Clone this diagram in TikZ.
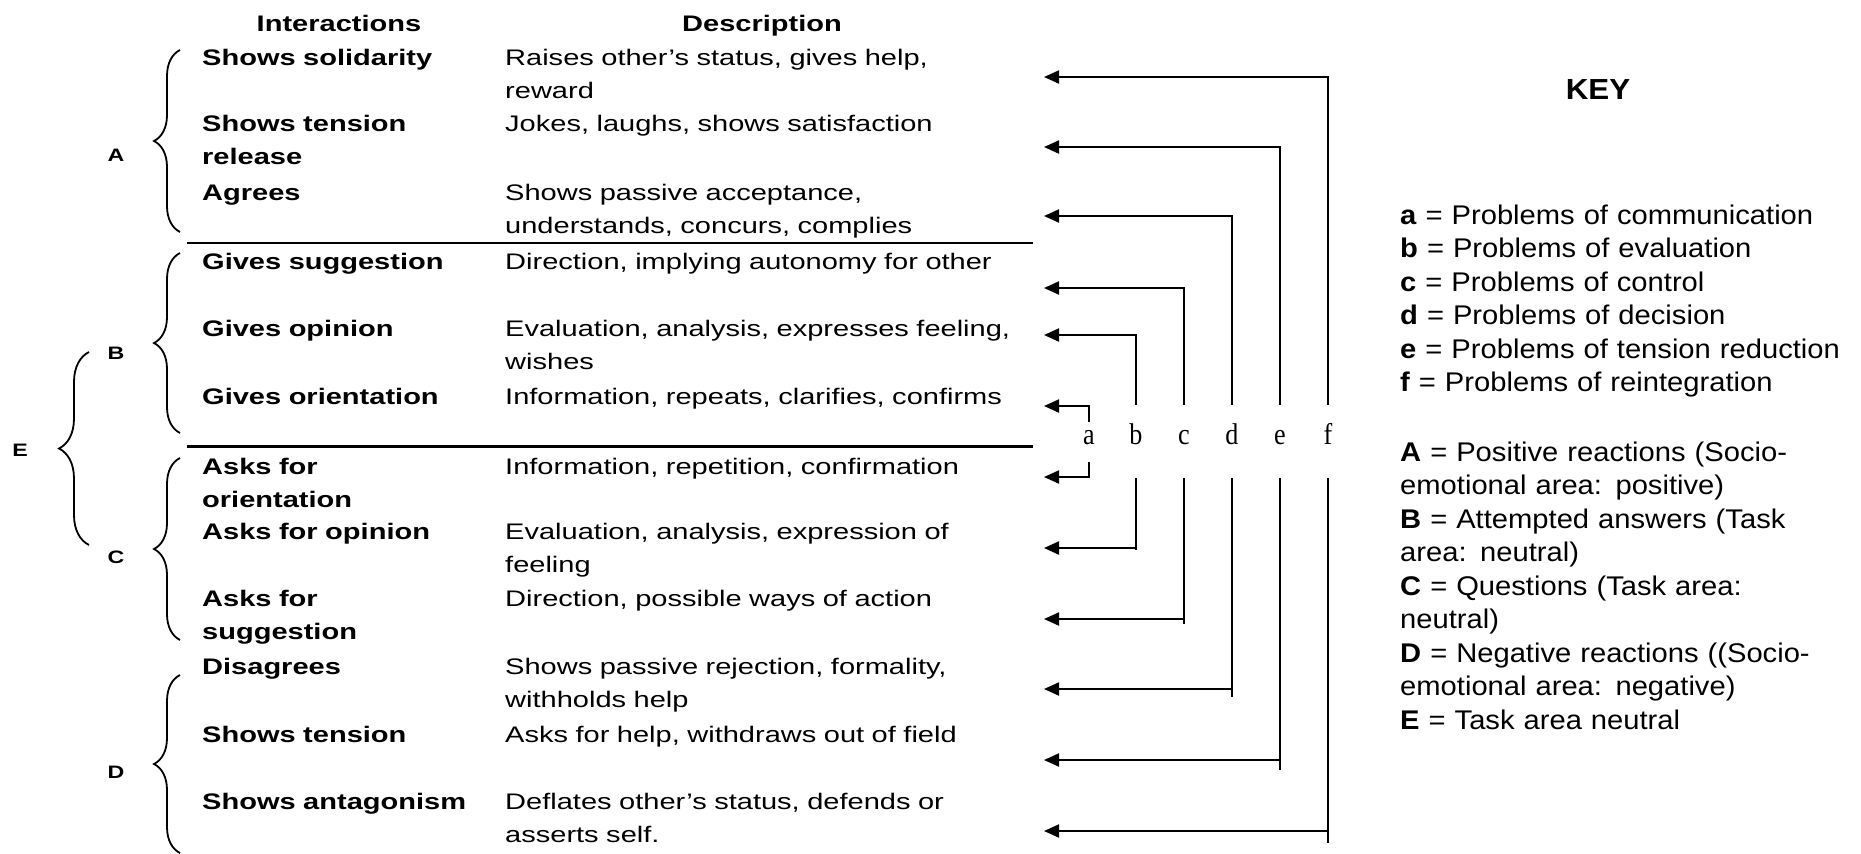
\documentclass[tikz,border=0pt]{standalone}
\usepackage{fontspec}
\setmainfont{Liberation Sans}
\newfontfamily\tabfont[FakeStretch=1.29]{Liberation Sans}
\newfontfamily\keyfont[FakeStretch=1.08]{Liberation Sans}
\newfontfamily\letfont[FakeStretch=0.87]{Liberation Serif}
\usetikzlibrary{arrows.meta,decorations.pathreplacing}
\begin{document}
\begin{tikzpicture}[x=1pt,y=-1pt,>={Triangle[length=15pt,width=13pt]},
  act/.style={anchor=base west,inner sep=0,text width=300pt,align=left,font=\tabfont\bfseries\fontsize{22.5}{33.5}\selectfont},
  desc/.style={anchor=base west,inner sep=0,text width=560pt,align=left,font=\tabfont\fontsize{22.5}{33.5}\selectfont},
  colhead/.style={anchor=base,inner sep=0,font=\tabfont\bfseries\fontsize{22.5}{27}\selectfont},
  grp/.style={inner sep=0,font=\tabfont\bfseries\fontsize{18}{20}\selectfont},
  curly/.style={decorate,decoration={brace,amplitude=#1},line width=1.8pt},
  prob/.style={anchor=base,inner sep=0,text height=39pt,text depth=34pt,font=\letfont\fontsize{30}{30}\selectfont},
  link/.style={->,line width=2pt},
  keytxt/.style={anchor=base west,inner sep=0,text width=470pt,align=left,font=\keyfont\fontsize{27}{33.5}\selectfont}]
  \useasboundingbox (0,0) rectangle (1861,854);
  % column heads
  \node[colhead] (hint) at (339,31) {Interactions};
  \node[colhead] (hdesc) at (762,31) {Description};
  % interactions
  \node[act] (i1) at (202,65) {Shows solidarity};
  \node[act] (i2) at (202,131) {Shows tension\\release};
  \node[act] (i3) at (202,200) {Agrees};
  \node[act] (i4) at (202,269) {Gives suggestion};
  \node[act] (i5) at (202,336) {Gives opinion};
  \node[act] (i6) at (202,404) {Gives orientation};
  \node[act] (i7) at (202,474) {Asks for\\orientation};
  \node[act] (i8) at (202,539) {Asks for opinion};
  \node[act] (i9) at (202,606) {Asks for\\suggestion};
  \node[act] (i10) at (202,674) {Disagrees};
  \node[act] (i11) at (202,742) {Shows tension};
  \node[act] (i12) at (202,809) {Shows antagonism};
  % descriptions
  \node[desc] (d1) at (505,65) {Raises other’s status, gives help,\\reward};
  \node[desc] (d2) at (505,131) {Jokes, laughs, shows satisfaction};
  \node[desc] (d3) at (505,200) {Shows passive acceptance,\\understands, concurs, complies};
  \node[desc] (d4) at (505,269) {Direction, implying autonomy for other};
  \node[desc] (d5) at (505,336) {Evaluation, analysis, expresses feeling,\\wishes};
  \node[desc] (d6) at (505,404) {Information, repeats, clarifies, confirms};
  \node[desc] (d7) at (505,474) {Information, repetition, confirmation};
  \node[desc] (d8) at (505,539) {Evaluation, analysis, expression of\\feeling};
  \node[desc] (d9) at (505,606) {Direction, possible ways of action};
  \node[desc] (d10) at (505,674) {Shows passive rejection, formality,\\withholds help};
  \node[desc] (d11) at (505,742) {Asks for help, withdraws out of field};
  \node[desc] (d12) at (505,809) {Deflates other’s status, defends or\\asserts self.};
  \draw[line width=2.4pt] (187,243)--(1033,243) (187,446.5)--(1033,446.5);
  % braces
  \draw[curly=26pt] (180,232)--(180,50);
  \draw[curly=26pt] (180,433)--(180,253);
  \draw[curly=26pt] (180,640)--(180,458);
  \draw[curly=26pt] (180,853)--(180,675);
  \draw[curly=30pt] (89,545)--(89,352);
  \node[grp] (gA) at (116,155) {A};
  \node[grp] (gB) at (116,353) {B};
  \node[grp] (gC) at (116,557) {C};
  \node[grp] (gD) at (116,772) {D};
  \node[grp] (gE) at (20,450) {E};
  % problem letters and arrows
  \node[prob,text height=22pt,text depth=18pt] (pa) at (1089,444) {a};
  \node[prob] (pb) at (1136,444) {b};
  \node[prob] (pc) at (1184,444) {c};
  \node[prob] (pd) at (1232,444) {d};
  \node[prob] (pe) at (1280,444) {e};
  \node[prob] (pf) at (1328,444) {f};
  \coordinate (ua) at (1044,406);
  \coordinate (da) at (1044,477);
  \draw[link] (pa.north) |- (ua);
  \draw[link] (pa.south) |- (da);
  \foreach \p/\yu/\yd/\ov in {b/335/548/2,c/288/619/5,d/216/689/8,e/147/760/10,f/77/831/12}{
    \coordinate (u\p) at (1044,\yu);
    \coordinate (d\p) at (1044,\yd);
    \draw[link] (p\p.north) |- (u\p);
    \draw[link] (p\p.south) |- (d\p);
    \draw[line width=2pt] (p\p.south |- d\p) -- ++(0,\ov);
  }
  % key
  \node[anchor=base,inner sep=0,font=\keyfont\bfseries\fontsize{29}{29}\selectfont] (keyhead) at (1598,99) {KEY};
  \node[keytxt] (keyprob) at (1400,224) {\textbf{a} = Problems of communication\\
    \textbf{b} = Problems of evaluation\\
    \textbf{c} = Problems of control\\
    \textbf{d} = Problems of decision\\
    \textbf{e} = Problems of tension reduction\\
    \textbf{f} = Problems of reintegration};
  \node[keytxt] (keyarea) at (1400,461) {\textbf{A} = Positive reactions (Socio-\\
    emotional area: positive)\\
    \textbf{B} = Attempted answers (Task\\
    area: neutral)\\
    \textbf{C} = Questions (Task area:\\
    neutral)\\
    \textbf{D} = Negative reactions ((Socio-\\
    emotional area: negative)\\
    \textbf{E} = Task area neutral};
\end{tikzpicture}
\end{document}
